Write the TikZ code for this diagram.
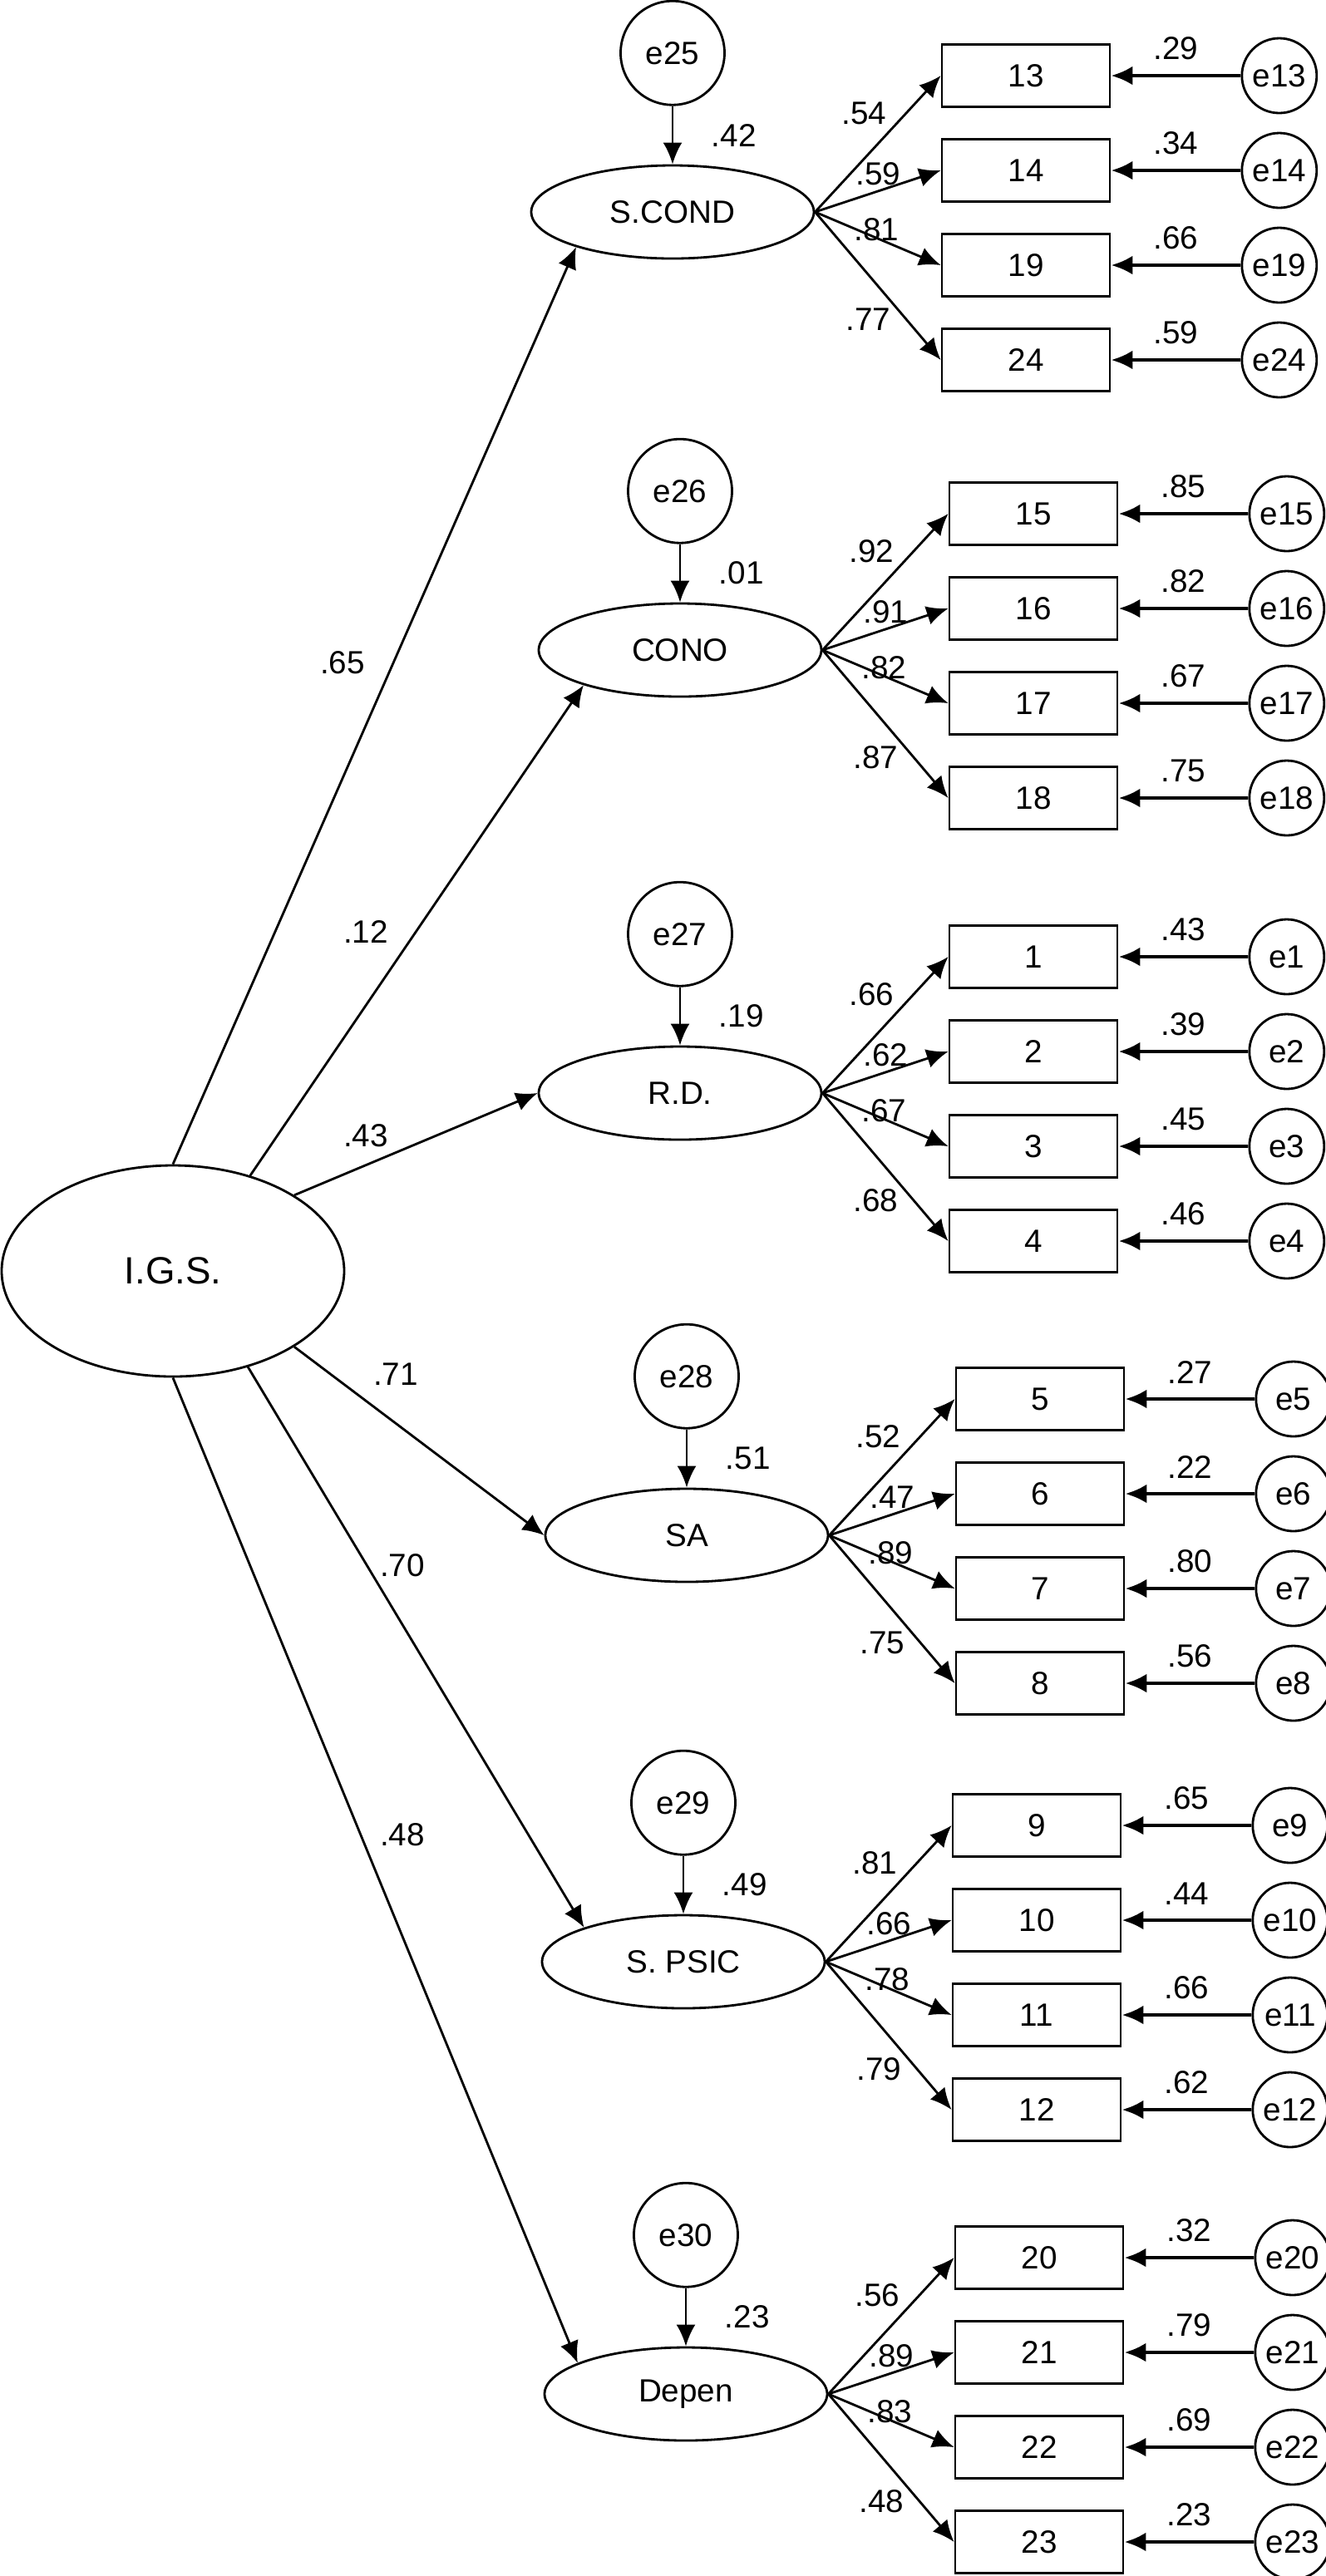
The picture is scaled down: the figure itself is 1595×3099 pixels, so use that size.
\documentclass[tikz,border=0pt]{standalone}
\usepackage{fontspec}
\setmainfont{Liberation Sans}
\usetikzlibrary{shapes.geometric,arrows.meta,positioning,calc}

\tikzset{
  lat/.style={ellipse,draw,inner sep=0pt,minimum width=34mm,minimum height=11.2mm,font=\fontsize{11}{13}\selectfont},
  dist/.style={circle,draw,inner sep=0pt,minimum size=12.5mm,font=\fontsize{11}{13}\selectfont},
  res/.style={circle,draw,inner sep=0pt,minimum size=9mm,font=\fontsize{11}{13}\selectfont},
  item/.style={rectangle,draw,inner sep=0pt,minimum width=20.2mm,minimum height=7.5mm,font=\fontsize{11}{13}\selectfont},
  lbl/.style={inner sep=1pt,font=\fontsize{11}{13}\selectfont},
  resarrow/.style={line width=1.3pt}
}

% one indicator: latent, row, item, loading, error, residual
\newcommand{\indrow}[6]{
  \ifcase#2 \def\ldx{59}\def\ldy{-119}\or \def\ldx{76}\def\ldy{-46}\or \def\ldx{74}\def\ldy{21}\or \def\ldx{64}\def\ldy{129}\fi
  \node[item] (b#3) at ($(#1)+(425,{-164+114*#2})$) {#3};
  \node[res,right=15.6mm of b#3] (#5) {#5};
  \draw[->] (#1.east) -- (b#3.west);
  \draw[->,resarrow] (#5) -- node[lbl,above=1.3mm]{#6} (b#3);
  \node[lbl] at ($(#1.east)+(\ldx,\ldy)$) {#4};
}

\begin{document}
\begin{tikzpicture}[x=0.1mm,y=-0.1mm,>={Latex[length=2.6mm,width=2.3mm]},line width=0.8pt]
\useasboundingbox (0,0) rectangle (1595,3099);
% latent variables
\node[lat,minimum width=41.2mm,minimum height=25.4mm,font=\fontsize{13}{15}\selectfont] (igs) at (208,1529) {I.G.S.};
\node[lat] (scond) at (809,255) {S.COND};
\node[lat] (cono) at (818,782) {CONO};
\node[lat] (rd) at (818,1315) {R.D.};
\node[lat] (sa) at (826,1847) {SA};
\node[lat] (spsic) at (822,2360) {S. PSIC};
\node[lat] (depen) at (825,2880) {Depen};
% disturbances
\node[dist,above=7mm of scond] (e25) {e25};
\node[dist,above=7mm of cono] (e26) {e26};
\node[dist,above=7mm of rd] (e27) {e27};
\node[dist,above=7mm of sa] (e28) {e28};
\node[dist,above=7mm of spsic] (e29) {e29};
\node[dist,above=7mm of depen] (e30) {e30};
\draw[->] (e25) -- node[lbl,right=4.2mm]{.42} (scond);
\draw[->] (e26) -- node[lbl,right=4.2mm]{.01} (cono);
\draw[->] (e27) -- node[lbl,right=4.2mm]{.19} (rd);
\draw[->] (e28) -- node[lbl,right=4.2mm]{.51} (sa);
\draw[->] (e29) -- node[lbl,right=4.2mm]{.49} (spsic);
\draw[->] (e30) -- node[lbl,right=4.2mm]{.23} (depen);
% structural paths
\draw[->] (igs.90) -- (scond.200);
\draw[->] (igs.51) -- (cono.200);
\draw[->] (igs.32) -- (rd.west);
\draw[->] (igs.-32) -- (sa.west);
\draw[->] (igs.-52) -- (spsic.161);
\draw[->] (igs.-90) -- (depen.164);
\node[lbl] at (412,797) {.65};
\node[lbl] at (440,1121) {.12};
\node[lbl] at (440,1366) {.43};
\node[lbl] at (476,1653) {.71};
\node[lbl] at (484,1883) {.70};
\node[lbl] at (484,2207) {.48};
% indicators
\indrow{scond}{0}{13}{.54}{e13}{.29}
\indrow{scond}{1}{14}{.59}{e14}{.34}
\indrow{scond}{2}{19}{.81}{e19}{.66}
\indrow{scond}{3}{24}{.77}{e24}{.59}
\indrow{cono}{0}{15}{.92}{e15}{.85}
\indrow{cono}{1}{16}{.91}{e16}{.82}
\indrow{cono}{2}{17}{.82}{e17}{.67}
\indrow{cono}{3}{18}{.87}{e18}{.75}
\indrow{rd}{0}{1}{.66}{e1}{.43}
\indrow{rd}{1}{2}{.62}{e2}{.39}
\indrow{rd}{2}{3}{.67}{e3}{.45}
\indrow{rd}{3}{4}{.68}{e4}{.46}
\indrow{sa}{0}{5}{.52}{e5}{.27}
\indrow{sa}{1}{6}{.47}{e6}{.22}
\indrow{sa}{2}{7}{.89}{e7}{.80}
\indrow{sa}{3}{8}{.75}{e8}{.56}
\indrow{spsic}{0}{9}{.81}{e9}{.65}
\indrow{spsic}{1}{10}{.66}{e10}{.44}
\indrow{spsic}{2}{11}{.78}{e11}{.66}
\indrow{spsic}{3}{12}{.79}{e12}{.62}
\indrow{depen}{0}{20}{.56}{e20}{.32}
\indrow{depen}{1}{21}{.89}{e21}{.79}
\indrow{depen}{2}{22}{.83}{e22}{.69}
\indrow{depen}{3}{23}{.48}{e23}{.23}
\end{tikzpicture}
\end{document}
